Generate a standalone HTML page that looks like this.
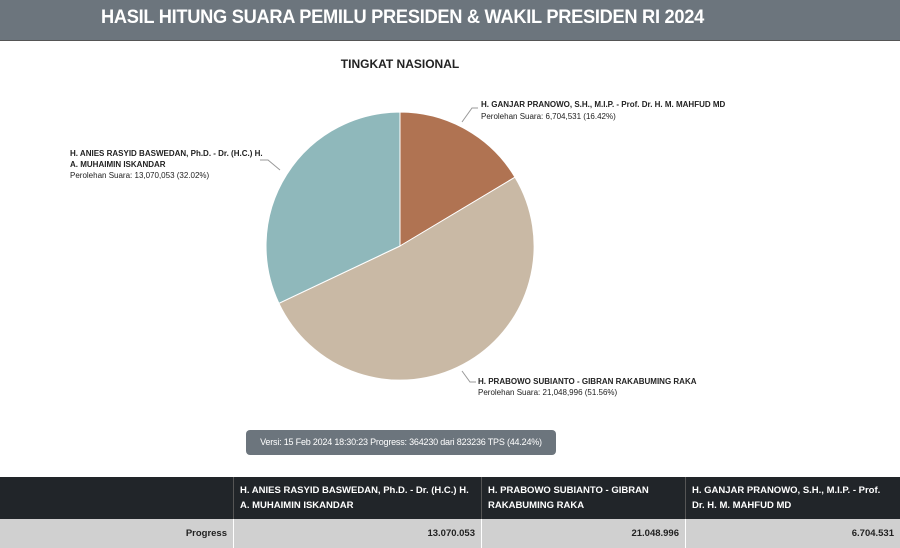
<!DOCTYPE html>
<html><head><meta charset="utf-8"><style>
body{margin:0;width:900px;height:548px;overflow:hidden;background:#fff;font-family:"Liberation Sans",sans-serif;position:relative}
.hdr{position:absolute;left:0;top:0;width:900px;height:40px;background:#6c757d;border-bottom:1px solid #555;color:#fff;font-weight:bold;font-size:19px;line-height:36px}
.hdr span{position:absolute;left:101px;letter-spacing:-0.3px;transform:scaleX(0.96);transform-origin:left center;white-space:nowrap}
.tip{position:absolute;left:246px;top:430px;width:310px;height:25px;background:#6c757d;border-radius:4px;color:#fff;font-size:9px;line-height:25px;text-align:center;white-space:nowrap;letter-spacing:-0.2px}
table{position:absolute;left:0;top:477px;width:900px;border-collapse:collapse;font-size:9.5px;font-weight:bold}
th{background:#212529;color:#fff;text-align:left;padding:0 6px;height:42px;border-left:1px solid #555;line-height:15px;vertical-align:middle}
td{background:#d0d0d0;color:#222;text-align:right;padding:0 6px;height:29px;border-left:1px solid #fff}
</style></head><body>
<div class="hdr"><span>HASIL HITUNG SUARA PEMILU PRESIDEN &amp; WAKIL PRESIDEN RI 2024</span></div>
<svg width="900" height="548" style="position:absolute;left:0;top:0">
<text x="400" y="68" text-anchor="middle" font-size="12" font-weight="bold" fill="#222" font-family="Liberation Sans">TINGKAT NASIONAL</text>
<path d="M400,246 L400,112 A134,134 0 0 1 515,177.2 Z" fill="#b07352" stroke="#fff" stroke-width="1"/>
<path d="M400,246 L515,177.2 A134,134 0 1 1 278.9,303.3 Z" fill="#c9b9a5" stroke="#fff" stroke-width="1"/>
<path d="M400,246 L278.9,303.3 A134,134 0 0 1 400,112 Z" fill="#8fb8bb" stroke="#fff" stroke-width="1"/>
<g stroke="#999" fill="none" stroke-width="1">
<path d="M462,122 L472,108 L478,108"/>
<path d="M462,371 L470,382 L476,382"/>
<path d="M280,170 L268,160 L260,160"/>
</g>
<g font-family="Liberation Sans" font-size="8" fill="#222">
<text x="481" y="107" font-weight="bold">H. GANJAR PRANOWO, S.H., M.I.P. - Prof. Dr. H. M. MAHFUD MD</text>
<text x="481" y="119">Perolehan Suara: 6,704,531 (16.42%)</text>
<text x="478" y="384" font-weight="bold">H. PRABOWO SUBIANTO - GIBRAN RAKABUMING RAKA</text>
<text x="478" y="395">Perolehan Suara: 21,048,996 (51.56%)</text>
<text x="70" y="156" font-weight="bold">H. ANIES RASYID BASWEDAN, Ph.D. - Dr. (H.C.) H.</text>
<text x="70" y="167" font-weight="bold">A. MUHAIMIN ISKANDAR</text>
<text x="70" y="178">Perolehan Suara: 13,070,053 (32.02%)</text>
</g>
</svg>
<div class="tip">Versi: 15 Feb 2024 18:30:23 Progress: 364230 dari 823236 TPS (44.24%)</div>
<table>
<tr><th style="width:221px;border-left:none"></th><th style="width:235px">H. ANIES RASYID BASWEDAN, Ph.D. - Dr. (H.C.) H. A. MUHAIMIN ISKANDAR</th><th style="width:191px">H. PRABOWO SUBIANTO - GIBRAN RAKABUMING RAKA</th><th>H. GANJAR PRANOWO, S.H., M.I.P. - Prof. Dr. H. M. MAHFUD MD</th></tr>
<tr><td style="border-left:none">Progress</td><td>13.070.053</td><td>21.048.996</td><td>6.704.531</td></tr>
</table>
</body></html>
